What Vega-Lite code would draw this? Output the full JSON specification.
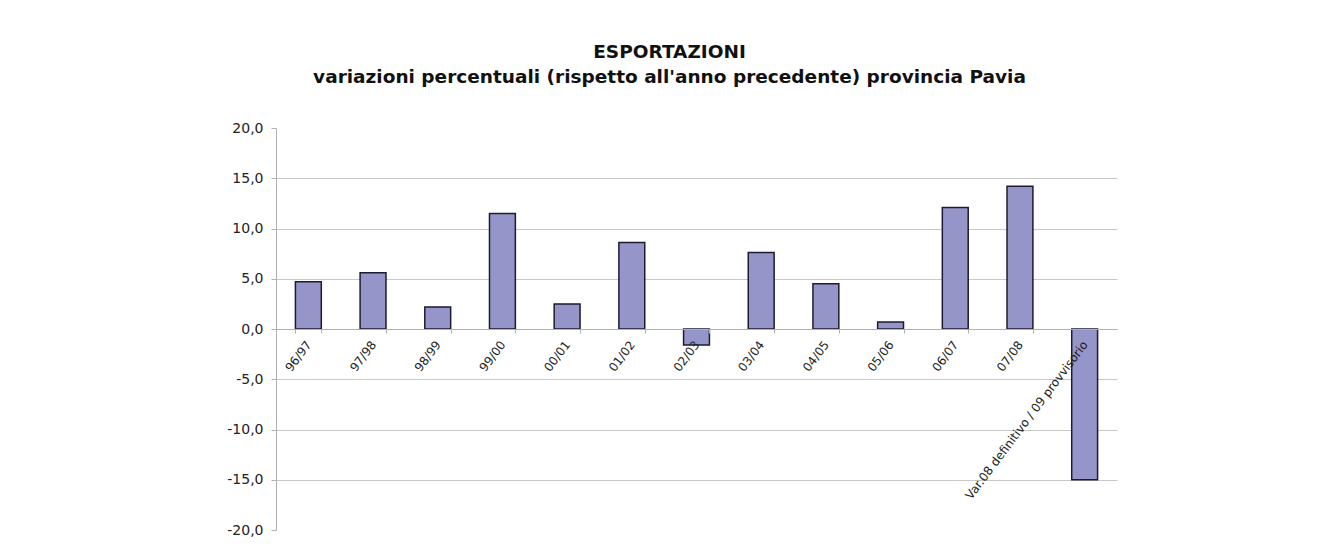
{
  "$schema": "https://vega.github.io/schema/vega-lite/v6.json",
  "autosize": "none",
  "width": 841,
  "height": 402,
  "padding": {"left": 276, "top": 128, "right": 202, "bottom": 28},
  "background": "white",
  "title": {
    "text": "ESPORTAZIONI",
    "subtitle": "variazioni percentuali (rispetto all'anno precedente) provincia Pavia",
    "anchor": "middle",
    "frame": "group",
    "dx": -27,
    "offset": 35,
    "font": "DejaVu Sans",
    "fontSize": 18.5,
    "fontWeight": "bold",
    "color": "#111111",
    "subtitleFont": "DejaVu Sans",
    "subtitleFontSize": 18.5,
    "subtitleFontWeight": "bold",
    "subtitleColor": "#111111",
    "subtitlePadding": 6
  },
  "data": {
    "values": [
      {"periodo": "96/97", "variazione": 4.7},
      {"periodo": "97/98", "variazione": 5.6},
      {"periodo": "98/99", "variazione": 2.2},
      {"periodo": "99/00", "variazione": 11.5},
      {"periodo": "00/01", "variazione": 2.5},
      {"periodo": "01/02", "variazione": 8.6},
      {"periodo": "02/03", "variazione": -1.6},
      {"periodo": "03/04", "variazione": 7.6},
      {"periodo": "04/05", "variazione": 4.5},
      {"periodo": "05/06", "variazione": 0.7},
      {"periodo": "06/07", "variazione": 12.1},
      {"periodo": "07/08", "variazione": 14.2},
      {"periodo": "Var.08 definitivo / 09 provvisorio", "variazione": -15.0}
    ]
  },
  "mark": {"type": "bar", "fill": "#9595c9", "stroke": "#1c1c30", "strokeWidth": 1.5},
  "encoding": {
    "x": {
      "field": "periodo",
      "type": "nominal",
      "sort": null,
      "scale": {"paddingInner": 0.6, "paddingOuter": 0.3},
      "axis": {
        "title": null,
        "orient": "bottom",
        "offset": -201,
        "zindex": 1,
        "tickBand": "extent",
        "labelAngle": -53,
        "labelAlign": "right",
        "labelBaseline": "middle",
        "labelPadding": 9,
        "labelFont": "DejaVu Sans",
        "labelFontSize": 12,
        "labelColor": "#222222",
        "labelLimit": 400,
        "domainColor": "#b0b0b0",
        "tickColor": "#b0b0b0",
        "tickSize": 4,
        "grid": false
      }
    },
    "y": {
      "field": "variazione",
      "type": "quantitative",
      "scale": {"domain": [-20, 20], "nice": false, "zero": false},
      "axis": {
        "title": null,
        "values": [-20, -15, -10, -5, 0, 5, 10, 15, 20],
        "labelExpr": "replace(replace(format(datum.value, '.1f'), '.', ','), '\u2212', '-')",
        "labelFont": "DejaVu Sans",
        "labelFontSize": 14,
        "labelColor": "#222222",
        "labelPadding": 8,
        "domainColor": "#b0b0b0",
        "tickColor": "#b0b0b0",
        "tickSize": 5,
        "grid": true,
        "gridColor": "#c8c8c8",
        "gridOpacity": {"condition": {"test": "abs(datum.value) == 20", "value": 0}, "value": 1}
      }
    }
  },
  "config": {"view": {"stroke": null}}
}
